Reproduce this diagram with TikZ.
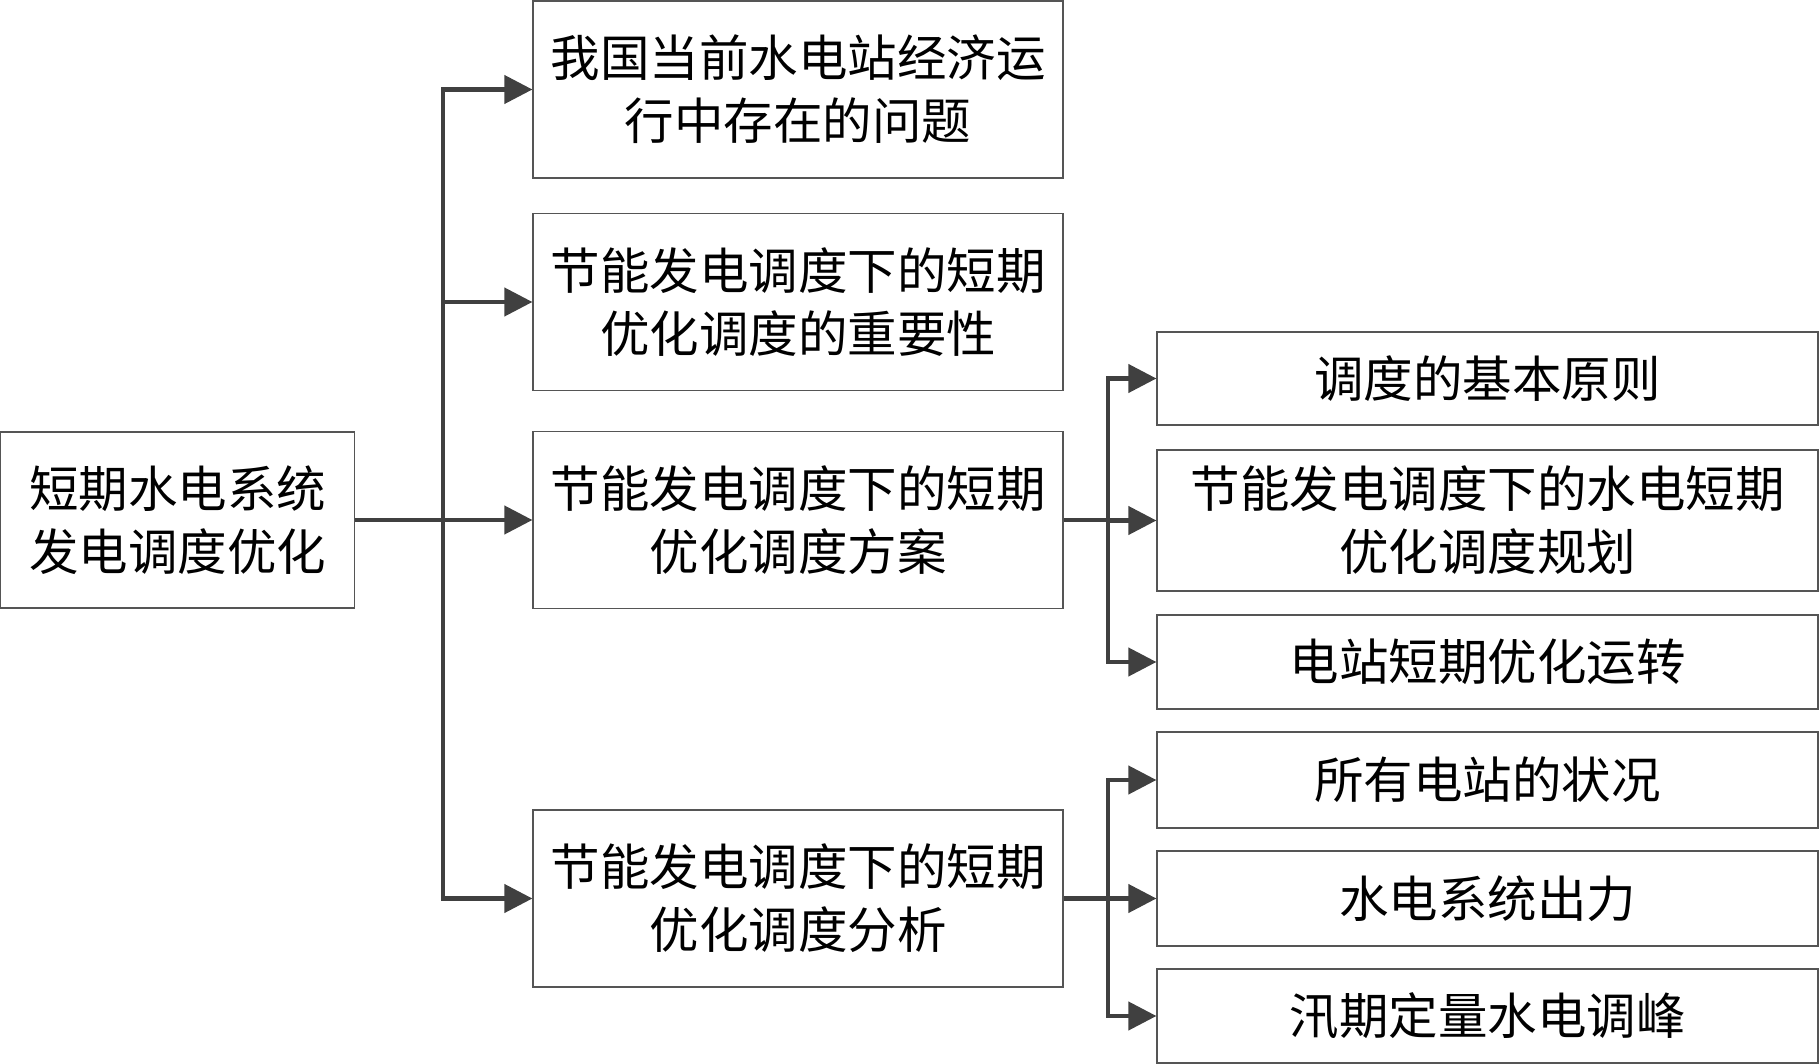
\documentclass[tikz,border=0pt]{standalone}
\usepackage{fontspec}
\setmainfont{Noto Sans CJK SC}
\usepackage{xcolor}
\usepackage{tikz}
\usetikzlibrary{arrows.meta}

\definecolor{linegray}{HTML}{404040}
\definecolor{boxgray}{HTML}{555555}

\tikzset{
    box/.style={draw=boxgray, line width=1.2pt, inner sep=0pt, align=center,
        font=\fontsize{49.5}{63}\selectfont},
    lvlone/.style={box, minimum width=530pt, minimum height=177pt},
    lvltwo/.style={box, minimum width=661pt},
    link/.style={draw=linegray, line width=4.2pt},
    arr/.style={link, -{Triangle[length=28pt,width=28pt]}},
}

\begin{document}
\begin{tikzpicture}[x=1pt,y=-1pt]
        \useasboundingbox (0,0) rectangle (1820,1064);

        \node[box, minimum width=354pt, minimum height=176pt] (root) at (177.5,520) {短期水电系统\\发电调度优化};

        \node[lvlone] (prob)  at (798,89.5)  {我国当前水电站经济运\\行中存在的问题};
        \node[lvlone] (imp)   at (798,302)   {节能发电调度下的短期\\优化调度的重要性};
        \node[lvlone] (plan)  at (798,520)   {节能发电调度下的短期\\优化调度方案};
        \node[lvlone] (anal)  at (798,898.5) {节能发电调度下的短期\\优化调度分析};

        \node[lvltwo, minimum height=93pt]  (rule)  at (1487.5,378.5) {调度的基本原则};
        \node[lvltwo, minimum height=141pt] (prog)  at (1487.5,520.5) {节能发电调度下的水电短期\\优化调度规划};
        \node[lvltwo, minimum height=94pt]  (run)   at (1487.5,662)   {电站短期优化运转};
        \node[lvltwo, minimum height=96pt]  (state) at (1487.5,780)   {所有电站的状况};
        \node[lvltwo, minimum height=95pt]  (out)   at (1487.5,898.5) {水电系统出力};
        \node[lvltwo, minimum height=94pt]  (peak)  at (1487.5,1016)  {汛期定量水电调峰};

        \coordinate (hub)  at (443,520);
        \coordinate (hubp) at (1108,520);
        \coordinate (huba) at (1108,898.5);

        \draw[link] (root.east) -- (hub);
        \foreach \t in {prob,imp,plan,anal}
            \draw[arr] (hub) |- (\t.west);

        \draw[link] (plan.east) -- (hubp);
        \foreach \t in {rule,prog,run}
            \draw[arr] (hubp) |- (\t.west);

        \draw[link] (anal.east) -- (huba);
        \foreach \t in {state,out,peak}
            \draw[arr] (huba) |- (\t.west);
    \end{tikzpicture}
\end{document}
